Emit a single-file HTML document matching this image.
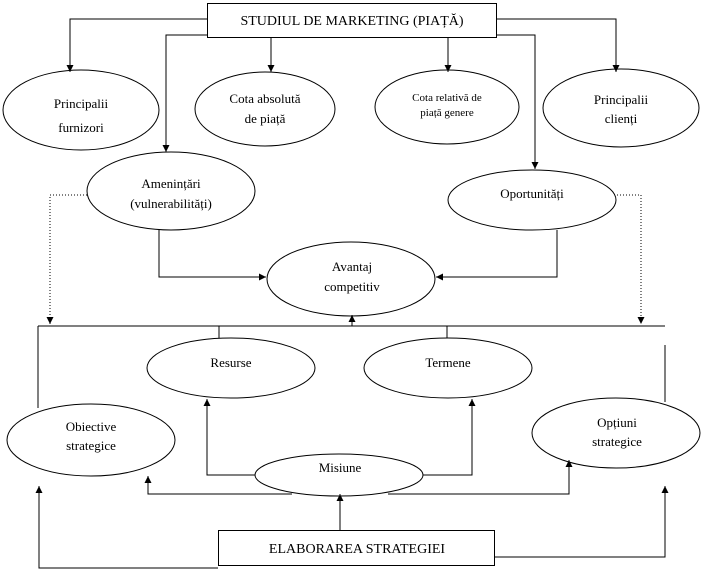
<!DOCTYPE html>
<html><head><meta charset="utf-8"><style>
html,body{margin:0;padding:0;background:#fff;}
svg{display:block;}
text{font-family:"Liberation Serif",serif;font-size:13px;fill:#000;text-anchor:middle;}
</style></head><body>
<svg width="702" height="571" viewBox="0 0 702 571" xmlns="http://www.w3.org/2000/svg">
<defs>
<marker id="a" viewBox="0 0 10 10" refX="10" refY="5" markerWidth="7" markerHeight="7" orient="auto" markerUnits="userSpaceOnUse"><path d="M0,0 L10,5 L0,10 z" fill="#000"/></marker>
</defs>
<g stroke="#000" stroke-width="1" fill="none">
<rect x="207.5" y="3.5" width="289" height="34"/>
<rect x="218.5" y="530.5" width="276" height="35"/>
<ellipse cx="81" cy="110" rx="78" ry="40"/>
<ellipse cx="265" cy="109" rx="70" ry="37"/>
<ellipse cx="447" cy="107" rx="72" ry="37"/>
<ellipse cx="621" cy="108" rx="78" ry="39"/>
<ellipse cx="171" cy="191" rx="84" ry="39"/>
<ellipse cx="532" cy="200" rx="84" ry="30"/>
<ellipse cx="351" cy="279" rx="84" ry="37"/>
<ellipse cx="231" cy="368" rx="84" ry="30"/>
<ellipse cx="448" cy="368" rx="84" ry="30"/>
<ellipse cx="91" cy="440" rx="84" ry="36"/>
<ellipse cx="616" cy="433" rx="84" ry="35"/>
<ellipse cx="339" cy="475" rx="84" ry="21"/>
<path d="M207,19 H70 V72" marker-end="url(#a)"/>
<path d="M497,19 H616 V72" marker-end="url(#a)"/>
<path d="M207,35 H166 V152" marker-end="url(#a)"/>
<path d="M497,35 H535 V169" marker-end="url(#a)"/>
<path d="M271,38 V72" marker-end="url(#a)"/>
<path d="M448,38 V72" marker-end="url(#a)"/>
<path d="M159,230 V277 H266" marker-end="url(#a)"/>
<path d="M557,230 V277 H436" marker-end="url(#a)"/>
<path d="M38,326 H665"/>
<path d="M352,326 V315" marker-end="url(#a)"/>
<path d="M219,326 V338 M447,326 V338"/>
<path d="M38,326 V408 M665,345 V402"/>
<path d="M255,475 H207 V399" marker-end="url(#a)"/>
<path d="M423,475 H472 V399" marker-end="url(#a)"/>
<path d="M292,494 H148 V476" marker-end="url(#a)"/>
<path d="M388,494 H569 V460" marker-end="url(#a)"/>
<path d="M340,530 V494" marker-end="url(#a)"/>
<path d="M218,568 H39 V486" marker-end="url(#a)"/>
<path d="M495,557 H665 V486" marker-end="url(#a)"/>
<g stroke-dasharray="1,2">
<path d="M87,195 H50 V324" marker-end="url(#a)"/>
<path d="M617,195 H641 V324" marker-end="url(#a)"/>
</g>
</g>
<text x="352" y="25" style="font-size:14px">STUDIUL DE MARKETING (PIAȚĂ)</text>
<text x="81" y="108">Principalii</text>
<text x="81" y="132">furnizori</text>
<text x="265" y="103">Cota absolută</text>
<text x="265" y="123">de piață</text>
<text x="447" y="101" style="font-size:11px">Cota relativă de</text>
<text x="447" y="116" style="font-size:11px">piață genere</text>
<text x="621" y="104">Principalii</text>
<text x="621" y="123">clienți</text>
<text x="171" y="188">Amenințări</text>
<text x="171" y="208">(vulnerabilități)</text>
<text x="532" y="198">Oportunități</text>
<text x="352" y="271">Avantaj</text>
<text x="352" y="291">competitiv</text>
<text x="231" y="367">Resurse</text>
<text x="448" y="367">Termene</text>
<text x="91" y="431">Obiective</text>
<text x="91" y="450">strategice</text>
<text x="617" y="427">Opțiuni</text>
<text x="617" y="446">strategice</text>
<text x="340" y="472">Misiune</text>
<text x="357" y="553" style="font-size:14px">ELABORAREA STRATEGIEI</text>
</svg>
</body></html>
